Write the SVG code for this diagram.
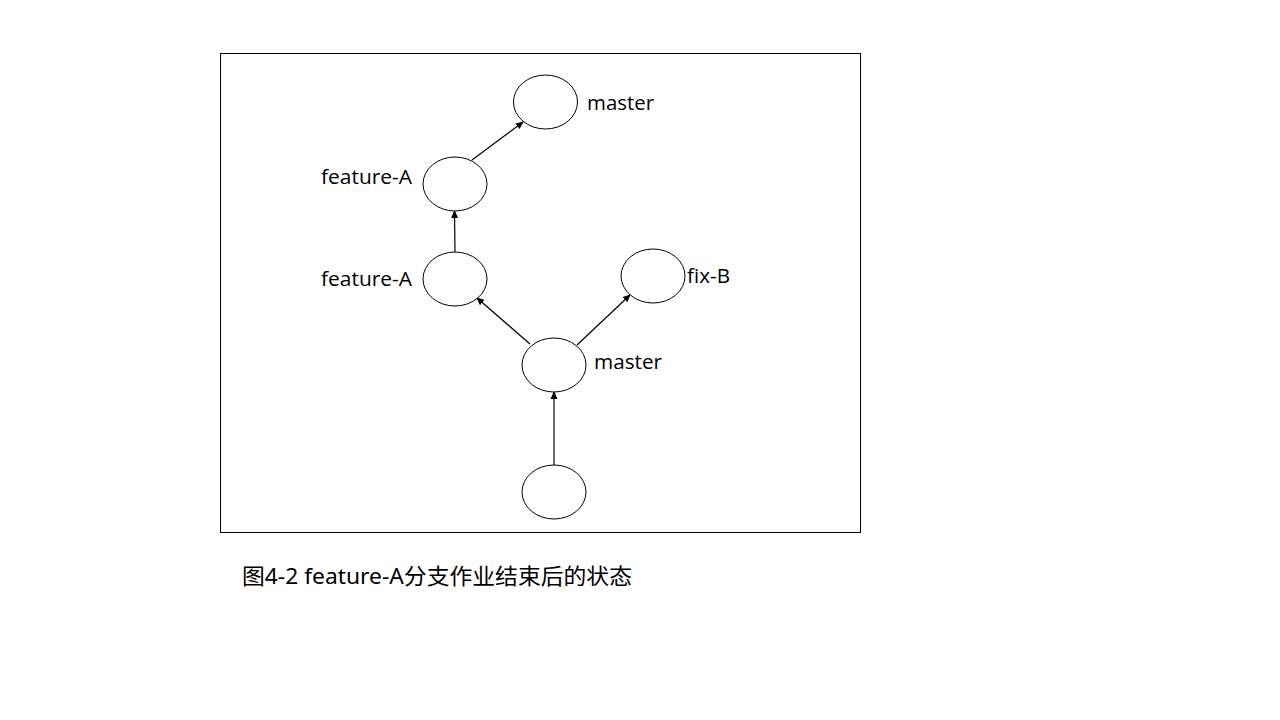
<svg xmlns="http://www.w3.org/2000/svg" width="1280" height="720" viewBox="0 0 1280 720">
<style>
.n{fill:#fff;stroke:#000;stroke-width:1}
.t{font-family:"Open Sans","Noto Sans",sans-serif;font-size:20px;fill:#000}
.c{stroke:#000;stroke-width:1.2;fill:none;marker-end:url(#ah)}
</style>
<defs>
<marker id="ah" markerWidth="8" markerHeight="8" refX="7" refY="4" orient="auto" markerUnits="userSpaceOnUse">
<path d="M0,0.5 L8,4 L0,7.5 Z" fill="#000"/>
</marker>
</defs>
<rect width="1280" height="720" fill="#fff"/>
<rect x="220.5" y="53.5" width="640" height="479" fill="none" stroke="#000" stroke-width="1"/>
<g id="connectors">
<line class="c" x1="554" y1="465" x2="554" y2="392"/>
<line class="c" x1="530" y1="344" x2="477" y2="298"/>
<line class="c" x1="577" y1="345" x2="630" y2="295"/>
<line class="c" x1="455" y1="252" x2="454.5" y2="211"/>
<line class="c" x1="472" y1="160" x2="523" y2="122"/>
</g>
<g id="n_master_top"><ellipse class="n" cx="545.5" cy="102" rx="32" ry="27"/><text class="t" x="587" y="110" textLength="67" lengthAdjust="spacingAndGlyphs">master</text></g>
<g id="n_featureA_2"><ellipse class="n" cx="455" cy="184" rx="32" ry="27"/><text class="t" x="321" y="184" textLength="91" lengthAdjust="spacingAndGlyphs">feature-A</text></g>
<g id="n_featureA_1"><ellipse class="n" cx="455" cy="279" rx="32" ry="27"/><text class="t" x="321" y="286" textLength="91" lengthAdjust="spacingAndGlyphs">feature-A</text></g>
<g id="n_fixB"><ellipse class="n" cx="653" cy="276" rx="32" ry="27"/><text class="t" x="687" y="283" textLength="43" lengthAdjust="spacingAndGlyphs">fix-B</text></g>
<g id="n_master_mid"><ellipse class="n" cx="554" cy="365" rx="32" ry="27"/><text class="t" x="594" y="369" textLength="68" lengthAdjust="spacingAndGlyphs">master</text></g>
<g id="n_root"><ellipse class="n" cx="554" cy="492" rx="32" ry="27"/></g>
<text x="242" y="584" font-family="'Noto Sans','Noto Sans CJK SC',sans-serif" font-size="22" textLength="390" lengthAdjust="spacingAndGlyphs" fill="#000">图4-2 feature-A分支作业结束后的状态</text>
</svg>
